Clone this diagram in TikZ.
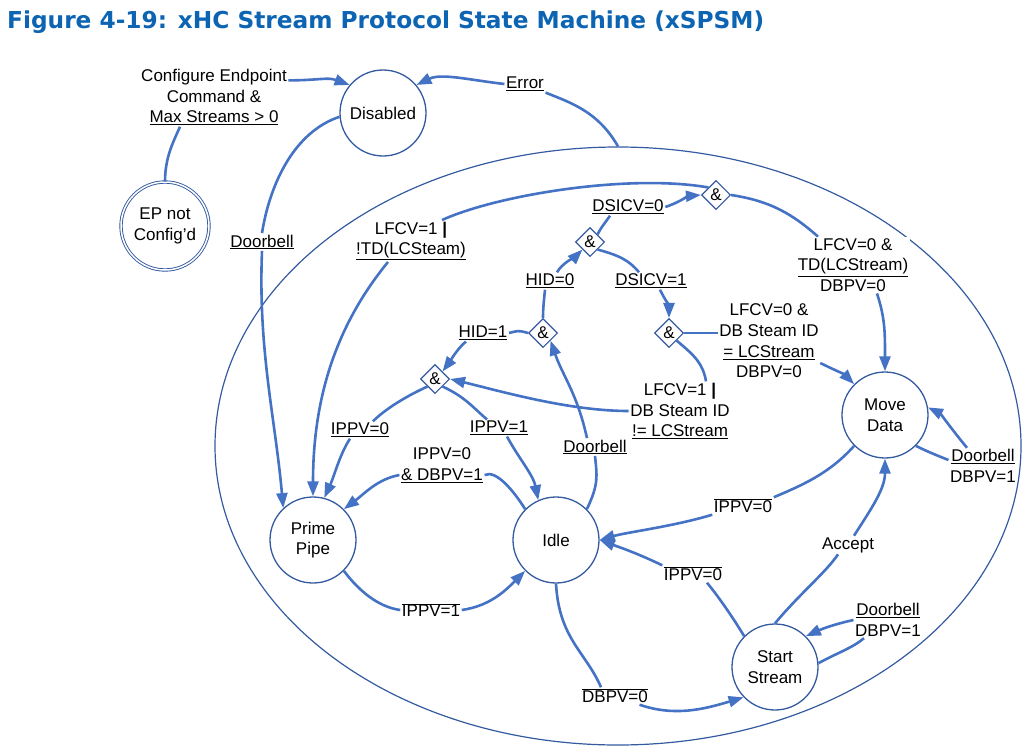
\documentclass[tikz,border=0pt]{standalone}
\usepackage{fontspec}
\setmainfont{Liberation Sans}
\newfontfamily\titlefont{DejaVu Sans}
\usepackage{graphicx}
\usepackage{tikz}
\usetikzlibrary{shapes.geometric,arrows.meta}
\newdimen\unitsize
\setlength{\unitsize}{1pt}
\definecolor{flowblue}{RGB}{68,114,196}
\definecolor{ringblue}{RGB}{52,90,160}
\definecolor{titleblue}{RGB}{12,100,178}
\newcommand{\ovl}[1]{$\overline{\hbox{#1}}$}

\begin{document}
\begin{tikzpicture}[x=\unitsize,y=-\unitsize]
\tikzset{state/.style={circle,draw=ringblue,line width=1.3pt,minimum size=86pt,inner sep=0pt,align=center,font=\fontsize{17}{20.7}\selectfont}}%
\tikzset{gate/.style={diamond,draw=ringblue,line width=1.1pt,fill=white,minimum size=29pt,inner sep=0pt,font=\fontsize{17}{20.7}\selectfont}}%
\tikzset{cond/.style={fill=white,inner sep=1.5pt,align=center,font=\fontsize{17}{20.7}\selectfont}}%
\tikzset{link/.style={draw=flowblue,line width=2.6pt}}%
\tikzset{go/.style={link,-{Triangle[length=15pt,width=11pt]}}}%
\useasboundingbox (0,0) rectangle (1036,755);
\node[anchor=base west,inner sep=0pt,text=titleblue] (title) at (7,28.5)
  {\resizebox{757pt}{\height}{\titlefont\bfseries\fontsize{23.3}{28}\selectfont Figure 4-19: xHC Stream Protocol State Machine (xSPSM)}};
\node[ellipse,draw=ringblue,line width=1.2pt,minimum width=806pt,minimum height=598pt,inner sep=0pt] (region) at (618,446) {};
% states
\node[state] (disabled) at (383,113) {Disabled};
\node[state,line width=0.9pt,double,double distance=1.5pt,minimum size=88pt] (epnc) at (165,226) {EP not\\Config'd};
\node[state] (prime) at (313,540) {Prime\\Pipe};
\node[state] (idle) at (556,540) {Idle};
\node[state] (move) at (885,415) {Move\\Data};
\node[state] (start) at (775,667) {Start\\Stream};
\node[gate] (g1) at (716,195) {\&};
\node[gate] (g2) at (590,242) {\&};
\node[gate] (g3) at (543,333) {\&};
\node[gate] (g4) at (669,333) {\&};
\node[gate] (g5) at (435,379) {\&};
% conditions
\node[cond] (cfg) at (214,97) {Configure Endpoint\\Command \&\\\underline{Max Streams > 0}};
\node[cond] (err) at (525,84) {\underline{Error}};
\node[cond] (bell1) at (262,242) {\underline{Doorbell}};
\node[cond] (lfcva) at (411,241) {LFCV=1 {\bfseries|}\\\underline{!TD(LCSteam)}};
\node[cond] (dsicva) at (628,207) {\underline{DSICV=0}};
\node[cond] (hida) at (550,281) {\underline{HID=0}};
\node[cond] (dsicvb) at (651,281) {\underline{DSICV=1}};
\node[cond] (hidb) at (483,333) {\underline{HID=1}};
\node[cond] (lfcvb) at (853,265) {LFCV=0 \&\\\underline{TD(LCStream)}\\DBPV=0};
\node[cond] (lfcvc) at (769,341) {LFCV=0 \&\\DB Steam ID\\\underline{= LCStream}\\DBPV=0};
\node[cond] (lfcvd) at (680,411) {LFCV=1 {\bfseries|}\\DB Steam ID\\\underline{!= LCStream}};
\node[cond] (bell2) at (595,447) {\underline{Doorbell}};
\node[cond] (ippva) at (360,430) {\underline{IPPV=0}};
\node[cond] (ippvb) at (499,428) {\underline{IPPV=1}};
\node[cond] (ippvc) at (442,465) {IPPV=0\\\underline{\& DBPV=1}};
\node[cond] (ippvd) at (431,610) {\ovl{IPPV=1}};
\node[cond] (dbpva) at (615,696) {\ovl{DBPV=0}};
\node[cond] (ippve) at (693,574) {\ovl{IPPV=0}};
\node[cond] (ippvf) at (743,506) {\ovl{IPPV=0}};
\node[cond] (accept) at (848,545) {Accept};
\node[cond] (bell3) at (983,466) {\underline{Doorbell}\\DBPV=1};
\node[cond] (bell4) at (888,620) {\underline{Doorbell}\\DBPV=1};
% transitions
\draw[link] (epnc.north) .. controls +(0,-25) and +(-6,14) .. ([xshift=-34pt]cfg.south);
\draw[go] ([yshift=-13pt]cfg.north east) .. controls +(30,0) and +(-22,-8) .. (disabled.140);
\draw[link] (region.north) .. controls +(-20,-35) and +(25,10) .. (err.south east);
\draw[go] (err.west) .. controls +(-35,-4) and +(25,-12) .. (disabled.40);
\draw[link] (disabled.185) .. controls +(-45,15) and +(8,-50) .. (bell1.north);
\draw[go] (bell1.south) .. controls +(-4,100) and +(-8,-90) .. (prime.133);
\draw[link] (g1.north west) .. controls +(-80,-14) and +(55,-25) .. ([xshift=31pt]lfcva.north);
\draw[go] ([xshift=-23pt]lfcva.south) .. controls +(-45,55) and +(0,-110) .. (prime.north);
\draw[link] (g2.north east) .. controls +(4,-8) and +(-4,6) .. ([xshift=-18pt]dsicva.south);
\draw[go] (dsicva.east) .. controls +(12,-4) and +(-12,1) .. (g1.west);
\draw[link] (g2.south east) .. controls +(22,6) and +(-10,-12) .. ([xshift=-12pt]dsicvb.north);
\draw[go] ([xshift=9pt]dsicvb.south) .. controls +(5,10) and +(0,-12) .. (g4.north);
\draw[link] (g3.north) .. controls +(0,-10) and +(-1,10) .. ([xshift=-5pt]hida.south);
\draw[go] ([xshift=7pt]hida.north) .. controls +(5,-9) and +(-6,6) .. (g2.south west);
\draw[link] (g3.west) .. controls +(-10,-3) and +(8,-2) .. (hidb.east);
\draw[go] ([xshift=-17pt]hidb.south) .. controls +(-8,6) and +(6,-8) .. (g5.north east);
\draw[link] (idle.45) .. controls +(12,-25) and +(2,20) .. (bell2.south);
\draw[go] ([xshift=-8pt]bell2.north) .. controls +(-10,-45) and +(12,35) .. (g3.south east);
\draw[link] (g4.east) -- ([yshift=8pt]lfcvc.west);
\draw[go] ([yshift=-22pt]lfcvc.east) .. controls +(12,6) and +(-10,-10) .. (move.135);
\draw[link] (g4.south east) .. controls +(18,15) and +(-3,-18) .. ([xshift=26pt]lfcvd.north);
\draw[go] (lfcvd.west) .. controls +(-60,0) and +(50,12) .. (g5.east);
\draw[link] (g1.east) .. controls +(40,6) and +(-25,-22) .. ([xshift=-35pt]lfcvb.north);
\draw[go] ([xshift=24pt]lfcvb.south) .. controls +(8,25) and +(0,-40) .. (move.north);
\draw[link] (g5.south west) .. controls +(-22,10) and +(12,-12) .. ([xshift=13pt]ippva.north);
\draw[go] ([xshift=-10pt]ippva.south) .. controls +(-10,15) and +(10,-22) .. (prime.75);
\draw[link] (g5.south east) .. controls +(22,10) and +(-14,-12) .. ([xshift=-12pt]ippvb.north);
\draw[go] ([xshift=8pt]ippvb.south) .. controls +(12,22) and +(-5,-25) .. (idle.114);
\draw[link] (idle.135) .. controls +(-10,-16) and +(12,-6) .. ([yshift=-10pt]ippvc.east);
\draw[go] ([yshift=-10pt]ippvc.west) .. controls +(-22,4) and +(20,-15) .. (prime.45);
\draw[link] (prime.-45) .. controls +(15,20) and +(-22,-3) .. (ippvd.west);
\draw[go] (ippvd.east) .. controls +(28,-4) and +(-20,20) .. (idle.-135);
\draw[link] (idle.south) .. controls +(3,55) and +(-15,-35) .. ([xshift=-14pt]dbpva.north);
\draw[go] ([xshift=-10pt]dbpva.south east) .. controls +(35,12) and +(-40,12) .. (start.-136);
\draw[link] (start.135) .. controls +(-12,-20) and +(10,12) .. ([xshift=14pt]ippve.south);
\draw[go] (ippve.north west) .. controls +(-25,-12) and +(22,8) .. (idle.east);
\draw[link] (move.-135) .. controls +(-25,28) and +(28,-12) .. (ippvf.north east);
\draw[go] (ippvf.south west) .. controls +(-40,12) and +(28,-8) .. (idle.east);
\draw[link] (start.north) .. controls +(25,-30) and +(-12,18) .. ([xshift=-10pt]accept.south);
\draw[go] ([xshift=6pt]accept.north) .. controls +(18,-28) and +(0,30) .. (move.south);
\draw[link] (move.-45) .. controls +(12,6) and +(-10,-4) .. ([yshift=6pt]bell3.west);
\draw[go] ([xshift=-16pt]bell3.north) .. controls +(-10,-12) and +(12,6) .. (move.10);
\draw[link] (start.5) .. controls +(18,-10) and +(-12,10) .. ([xshift=-24pt]bell4.south);
\draw[go] (bell4.west) .. controls +(-18,4) and +(18,-8) .. (start.45);
\end{tikzpicture}
\end{document}
